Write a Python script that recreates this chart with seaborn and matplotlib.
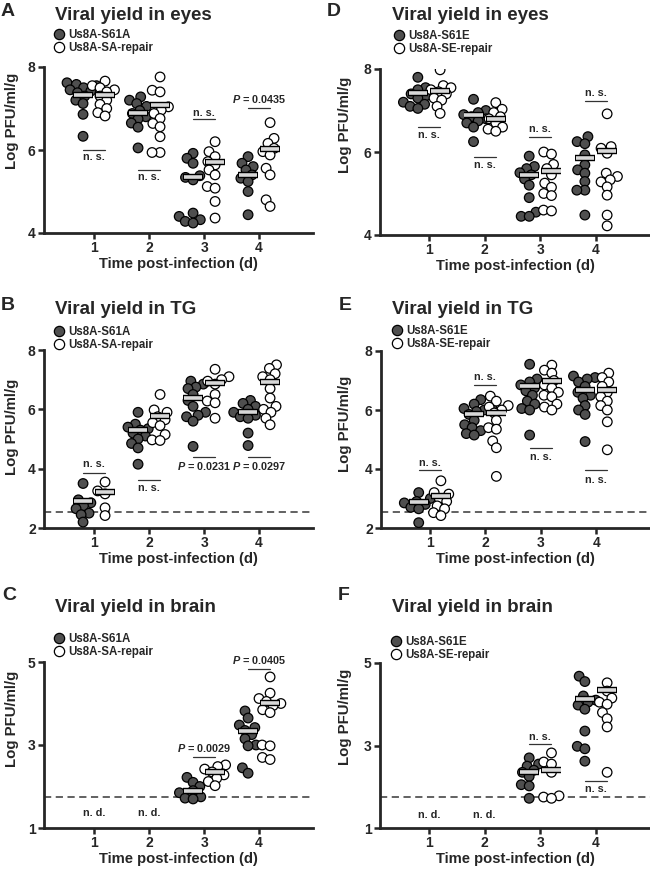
import pandas as pd
import seaborn as sns
from matplotlib import pyplot as plt
from matplotlib.lines import Line2D

DAYS = [1, 2, 3, 4]

# ---- A: eyes, S61A vs SA-repair ----
eyes_s61a = [
    [7.62, 7.58, 7.55, 7.5, 7.45, 7.42, 7.38, 7.3, 7.2, 7.12, 6.86, 6.33],
    [7.28, 7.2, 7.12, 7.05, 6.95, 6.88, 6.8, 6.75, 6.65, 6.55, 6.05],
    [5.92, 5.8, 5.68, 5.38, 5.34, 5.28, 4.48, 4.4, 4.32, 4.28, 4.24],
    [5.84, 5.68, 5.6, 5.52, 5.4, 5.32, 5.24, 5.0, 4.44],
]
eyes_sa_repair = [
    [7.66, 7.55, 7.5, 7.45, 7.4, 7.3, 7.2, 7.1, 7.0, 6.9, 6.82],
    [7.76, 7.44, 7.4, 7.04, 6.96, 6.88, 6.76, 6.64, 6.56, 6.32, 5.94, 5.94],
    [6.2, 5.96, 5.84, 5.72, 5.64, 5.52, 5.4, 5.12, 5.08, 4.76, 4.36],
    [6.66, 6.28, 6.16, 6.04, 5.96, 5.88, 5.56, 5.4, 4.8, 4.64],
]
eyes_s61a_mean = [7.32, 6.9, 5.36, 5.4]
eyes_sa_repair_mean = [7.32, 7.08, 5.7, 6.02]

# ---- D: eyes, S61E vs SE-repair ----
eyes_s61e = [
    [7.8, 7.55, 7.5, 7.45, 7.4, 7.35, 7.3, 7.2, 7.15, 7.1, 7.05],
    [7.27, 7.0, 6.95, 6.9, 6.85, 6.8, 6.75, 6.7, 6.6, 6.25],
    [5.9, 5.65, 5.6, 5.5, 5.45, 5.35, 5.2, 4.9, 4.55, 4.45, 4.45],
    [6.37, 6.25, 6.2, 5.93, 5.69, 5.57, 5.49, 5.29, 5.08, 5.08, 4.48],
]
eyes_se_repair = [
    [7.98, 7.6, 7.55, 7.5, 7.45, 7.4, 7.3, 7.25, 7.1, 6.93],
    [7.19, 7.03, 6.95, 6.85, 6.8, 6.7, 6.6, 6.55, 6.5],
    [6.0, 5.95, 5.7, 5.6, 5.45, 5.25, 5.15, 5.0, 4.95, 4.6, 4.58],
    [6.92, 6.13, 6.09, 5.97, 5.49, 5.41, 5.33, 5.28, 5.16, 4.96, 4.48, 4.22],
]
eyes_s61e_mean = [7.43, 6.9, 5.45, 5.85]
eyes_se_repair_mean = [7.48, 6.8, 5.55, 6.02]

# ---- B: TG, S61A vs SA-repair ----
tg_s61a = [
    [3.5, 2.95, 2.85, 2.75, 2.65, 2.5, 2.45, 2.2],
    [5.9, 5.5, 5.4, 5.35, 5.3, 5.2, 5.1, 5.0, 4.85, 4.7, 4.15],
    [6.95, 6.85, 6.75, 6.7, 6.5, 6.3, 6.1, 5.9, 5.8, 5.75, 5.6, 4.75],
    [6.3, 6.2, 6.1, 6.0, 5.9, 5.8, 5.75, 5.7, 5.2, 4.78],
]
tg_sa_repair = [
    [3.55, 3.25, 3.15, 2.68, 2.42],
    [6.5, 5.98, 5.9, 5.75, 5.65, 5.55, 5.45, 5.15, 4.97, 4.95],
    [7.35, 7.1, 7.0, 6.95, 6.85, 6.5, 6.28, 6.22, 5.7],
    [7.5, 7.38, 7.2, 7.1, 7.0, 6.7, 6.38, 6.1, 6.0, 5.9, 5.7, 5.48],
]
tg_s61a_mean = [2.92, 5.29, 6.37, 5.9]
tg_sa_repair_mean = [3.2, 5.78, 6.88, 6.93]

# ---- E: TG, S61E vs SE-repair ----
tg_s61e = [
    [3.2, 3.0, 2.9, 2.85, 2.8, 2.7, 2.65, 2.18],
    [6.35, 6.2, 6.1, 6.05, 6.0, 5.95, 5.85, 5.65, 5.5, 5.4, 5.3, 5.2, 5.15],
    [7.55, 7.05, 6.95, 6.85, 6.75, 6.65, 6.5, 6.3, 6.2, 6.05, 6.0, 5.15],
    [7.15, 7.1, 7.05, 6.95, 6.8, 6.6, 6.5, 6.4, 6.15, 6.0, 5.85, 4.93],
]
tg_se_repair = [
    [3.6, 3.2, 3.15, 3.0, 2.9, 2.75, 2.65, 2.52, 2.42],
    [6.47, 6.3, 6.15, 6.1, 6.0, 5.9, 5.65, 5.4, 5.35, 4.95, 4.72, 3.75],
    [7.52, 7.35, 7.25, 7.0, 6.85, 6.75, 6.6, 6.5, 6.45, 6.2, 6.1, 6.0],
    [7.25, 7.1, 6.95, 6.8, 6.6, 6.45, 6.3, 6.15, 6.0, 5.6, 4.65],
]
tg_s61e_mean = [2.87, 5.88, 6.8, 6.69]
tg_se_repair_mean = [3.07, 5.9, 7.0, 6.67]

# ---- C: brain, S61A vs SA-repair (not detected on days 1-2) ----
brain_s61a = [
    [],
    [],
    [2.22, 2.1, 2.0, 1.9, 1.85, 1.75, 1.72, 1.7],
    [3.82, 3.65, 3.48, 3.42, 3.35, 3.25, 3.15, 3.0, 2.98, 2.45, 2.32],
]
brain_sa_repair = [
    [],
    [],
    [2.52, 2.48, 2.42, 2.35, 2.28, 2.2, 2.12, 2.02],
    [4.64, 4.25, 4.12, 4.05, 4.0, 3.95, 3.85, 3.78, 3.0, 2.98, 2.7, 2.65],
]
brain_s61a_mean = [None, None, 1.9, 3.34]
brain_sa_repair_mean = [None, None, 2.34, 4.02]

# ---- F: brain, S61E vs SE-repair ----
brain_s61e = [
    [],
    [],
    [2.7, 2.55, 2.5, 2.4, 2.35, 2.25, 2.05, 2.02, 1.72],
    [4.68, 4.55, 4.2, 4.1, 4.05, 3.98, 3.88, 3.35, 2.98, 2.92, 2.62],
]
brain_se_repair = [
    [],
    [],
    [2.82, 2.6, 2.55, 2.35, 1.78, 1.75, 1.72],
    [5.2, 4.52, 4.32, 4.15, 4.05, 4.0, 3.8, 3.65, 3.45, 2.35],
]
brain_s61e_mean = [None, None, 2.35, 4.13]
brain_se_repair_mean = [None, None, 2.4, 4.35]

# detection limits
TG_LOD = 2.55
BRAIN_LOD = 1.74

NS = "n. s."
ND = "n. d."
# (day, line y, text y, label)
notes_a = [(1, 6.0, 5.84, NS), (2, 5.52, 5.36, NS), (3, 6.74, 6.9, NS),
           (4, 7.02, 7.22, "$P$ = 0.0435")]
notes_d = [(1, 6.6, 6.4, NS), (2, 5.87, 5.69, NS), (3, 6.37, 6.55, NS), (4, 7.24, 7.42, NS)]
notes_b = [(1, 3.87, 4.16, NS), (2, 3.63, 3.35, NS), (3, 4.39, 4.1, "$P$ = 0.0231"),
           (4, 4.39, 4.1, "$P$ = 0.0297")]
notes_e = [(1, 3.95, 4.2, NS), (2, 6.84, 7.12, NS), (3, 4.7, 4.4, NS), (4, 3.95, 3.63, NS)]
notes_c = [(3, 2.72, 2.92, "$P$ = 0.0029"), (4, 4.82, 5.04, "$P$ = 0.0405")]
notes_f = [(3, 3.04, 3.2, NS), (4, 2.13, 1.95, NS)]

W, H = 650, 869
DARK = "#4f4f4f"
LAYOUT_SIZE = 4.6   # marker size used to pack the swarm (lets dots overlap a bit)
DOT_SIZE = 6.9      # marker size actually drawn

sns.set_theme(style="ticks")
plt.rcParams["font.family"] = ["Liberation Sans", "DejaVu Sans"]
plt.rcParams["mathtext.fontset"] = "custom"
plt.rcParams["mathtext.it"] = "Liberation Sans:italic:bold"
plt.rcParams["mathtext.rm"] = "Liberation Sans:bold"


def px_rect(x0, y0, x1, y1):
    return [x0 / W, 1 - y1 / H, (x1 - x0) / W, (y1 - y0) / H]


def long_frame(mut, rep, labels):
    rows = []
    for name, groups in zip(labels, (mut, rep)):
        for day, vals in zip(DAYS, groups):
            for v in vals:
                rows.append({"day": day, "strain": name, "value": v})
    return pd.DataFrame(rows)


def draw_panel(fig, spec):
    ax = fig.add_axes(px_rect(*spec["rect"]))
    labels = spec["labels"]
    df = long_frame(spec["mut"], spec["rep"], labels)
    n_before = len(ax.collections)
    sns.swarmplot(data=df, x="day", y="value", hue="strain", hue_order=labels,
                  palette=[DARK, "white"], dodge=True, native_scale=True,
                  size=LAYOUT_SIZE, linewidth=0.9, edgecolor="black", legend=False,
                  warn_thresh=1.0, ax=ax, zorder=3)
    swarms = ax.collections[n_before:]

    # mean bars
    for off, means in ((-0.2, spec["mut_mean"]), (0.2, spec["rep_mean"])):
        for day, m in zip(DAYS, means):
            if m is None:
                continue
            ax.hlines(m, day + off - 0.18, day + off + 0.18, color="black",
                      lw=4.6, capstyle="butt", zorder=5)
            ax.hlines(m, day + off - 0.165, day + off + 0.165, color="#d8d8d8",
                      lw=2.6, capstyle="butt", zorder=6)

    if spec.get("lod") is not None:
        ax.axhline(spec["lod"], color="#555555", lw=1.3, ls=(0, (4, 2.5)), zorder=1)

    for day, yl, yt, txt in spec["notes"]:
        ax.plot([day - 0.2, day + 0.2], [yl, yl], color="#333333", lw=0.9, zorder=2)
        ax.text(day, yt, txt, ha="center", va="center", fontsize=7.8,
                fontweight="bold", clip_on=False)
    for day, yt in spec.get("nd", []):
        ax.text(day, yt, ND, ha="center", va="center", fontsize=7.8, fontweight="bold")

    ax.set_xlim(*spec["xlim"])
    ax.set_ylim(*spec["ylim"])
    ax.set_xticks(DAYS)
    ax.set_yticks(spec["yticks"])
    ax.set_xticklabels([str(d) for d in DAYS])
    ax.set_xlabel("Time post-infection (d)", fontsize=10.6, fontweight="bold", labelpad=1)
    ax.set_ylabel("Log PFU/ml/g", fontsize=10.8, fontweight="bold")
    ax.yaxis.set_label_coords(*spec["ylabel_xy"])
    ax.tick_params(axis="both", length=4, width=1.8, pad=2, labelsize=10)
    for lab in ax.get_xticklabels() + ax.get_yticklabels():
        lab.set_fontweight("bold")
    sns.despine(ax=ax)
    for side in ("left", "bottom"):
        ax.spines[side].set_linewidth(2)

    # panel letter, title, legend
    lx, ly = spec["letter_xy"]
    fig.text(lx / W, 1 - ly / H, spec["letter"], fontsize=14, fontweight="bold",
             ha="left", va="center")
    tx, ty = spec["title_xy"]
    fig.text(tx / W, 1 - ty / H, spec["title"], fontsize=13.5, fontweight="bold",
             ha="left", va="center")
    handles = [
        Line2D([], [], ls="", marker="o", ms=7.4, mfc=DARK, mec="black", mew=0.9),
        Line2D([], [], ls="", marker="o", ms=7.4, mfc="white", mec="black", mew=0.9),
    ]
    mx, my = spec["legend_xy"]
    ax.legend(handles, labels, loc="upper left",
              bbox_to_anchor=((mx - 5) / W, 1 - (my - 6) / H),
              bbox_transform=fig.transFigure, frameon=False, borderpad=0,
              borderaxespad=0, handlelength=0.9, handletextpad=0.35,
              labelspacing=0.05, prop={"weight": "bold", "size": 8.3})
    return swarms


panels = [
    dict(letter="A", title="Viral yield in eyes", mut=eyes_s61a, rep=eyes_sa_repair,
         mut_mean=eyes_s61a_mean, rep_mean=eyes_sa_repair_mean,
         labels=("Us8A-S61A", "Us8A-SA-repair"), rect=(44, 67, 313, 233),
         xlim=(0.09, 4.98), ylim=(4, 8), yticks=[4, 6, 8], notes=notes_a,
         ylabel_xy=(-0.094, 0.675),
         letter_xy=(1, 11), title_xy=(55, 15), legend_xy=(59, 35)),
    dict(letter="D", title="Viral yield in eyes", mut=eyes_s61e, rep=eyes_se_repair,
         mut_mean=eyes_s61e_mean, rep_mean=eyes_se_repair_mean,
         labels=("Us8A-S61E", "Us8A-SE-repair"), rect=(380, 69, 650, 235),
         xlim=(0.12, 4.97), ylim=(4, 8), yticks=[4, 6, 8], notes=notes_d,
         ylabel_xy=(-0.104, 0.663),
         letter_xy=(327, 11), title_xy=(392, 15), legend_xy=(399, 36)),
    dict(letter="B", title="Viral yield in TG", mut=tg_s61a, rep=tg_sa_repair,
         mut_mean=tg_s61a_mean, rep_mean=tg_sa_repair_mean,
         labels=("Us8A-S61A", "Us8A-SA-repair"), rect=(44, 350, 313, 528),
         xlim=(0.09, 4.98), ylim=(2, 8), yticks=[2, 4, 6, 8], notes=notes_b,
         lod=TG_LOD, ylabel_xy=(-0.094, 0.567),
         letter_xy=(1, 305), title_xy=(55, 309), legend_xy=(59, 332)),
    dict(letter="E", title="Viral yield in TG", mut=tg_s61e, rep=tg_se_repair,
         mut_mean=tg_s61e_mean, rep_mean=tg_se_repair_mean,
         labels=("Us8A-S61E", "Us8A-SE-repair"), rect=(381, 351, 650, 528),
         xlim=(0.12, 4.97), ylim=(2, 8), yticks=[2, 4, 6, 8], notes=notes_e,
         lod=TG_LOD, ylabel_xy=(-0.108, 0.588),
         letter_xy=(339, 305), title_xy=(392, 309), legend_xy=(397, 331)),
    dict(letter="C", title="Viral yield in brain", mut=brain_s61a, rep=brain_sa_repair,
         mut_mean=brain_s61a_mean, rep_mean=brain_sa_repair_mean,
         labels=("Us8A-S61A", "Us8A-SA-repair"), rect=(44, 662, 313, 828),
         xlim=(0.09, 4.98), ylim=(1, 5), yticks=[1, 3, 5], notes=notes_c,
         nd=[(1, 1.36), (2, 1.36)], lod=BRAIN_LOD, ylabel_xy=(-0.094, 0.657),
         letter_xy=(2, 595), title_xy=(55, 607), legend_xy=(59, 639)),
    dict(letter="F", title="Viral yield in brain", mut=brain_s61e, rep=brain_se_repair,
         mut_mean=brain_s61e_mean, rep_mean=brain_se_repair_mean,
         labels=("Us8A-S61E", "Us8A-SE-repair"), rect=(380, 663, 650, 828),
         xlim=(0.12, 4.97), ylim=(1, 5), yticks=[1, 3, 5], notes=notes_f,
         nd=[(1, 1.32), (2, 1.32)], lod=BRAIN_LOD, ylabel_xy=(-0.104, 0.673),
         letter_xy=(338, 596), title_xy=(392, 608), legend_xy=(396, 642)),
]

fig = plt.figure(figsize=(W / 100, H / 100), dpi=100)
all_swarms = []
for spec in panels:
    all_swarms.extend(draw_panel(fig, spec))

# pack the swarms once at the small size, then freeze the layout and enlarge the dots
fig.canvas.draw()
for coll in all_swarms:
    if "draw" in vars(coll):
        del coll.draw
    coll.set_sizes([DOT_SIZE ** 2])

fig.savefig("out.png", dpi=100)
plt.close(fig)
